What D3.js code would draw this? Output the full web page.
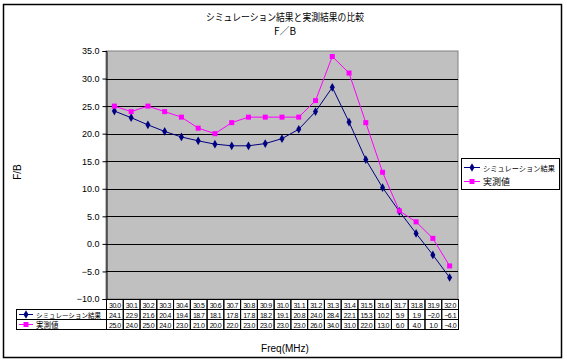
<!DOCTYPE html>
<html>
<head>
<meta charset="utf-8">
<script src="https://cdn.jsdelivr.net/npm/d3@7"></script>
<style>
body { margin: 0; background: #fff; }
svg { display: block; font-family: "Liberation Sans", Arial, "Noto Sans CJK JP", sans-serif; }
.jp { font-family: "Noto Sans CJK JP", sans-serif; }
</style>
</head>
<body>
<svg id="chart" width="567" height="364"></svg>
<script>
// categories (Freq)
const freqs = ["30.0", "30.1", "30.2", "30.3", "30.4", "30.5", "30.6", "30.7", "30.8", "30.9", "31.0",
    "31.1", "31.2", "31.3", "31.4", "31.5", "31.6", "31.7", "31.8", "31.9", "32.0"];
const simValues = [24.1, 22.9, 21.6, 20.4, 19.4, 18.7, 18.1, 17.8, 17.8, 18.2, 19.1,
    20.8, 24.0, 28.4, 22.1, 15.3, 10.2, 5.9, 1.9, -2.0, -6.1];
const measValues = [25.0, 24.0, 25.0, 24.0, 23.0, 21.0, 20.0, 22.0, 23.0, 23.0, 23.0,
    23.0, 26.0, 34.0, 31.0, 22.0, 13.0, 6.0, 4.0, 1.0, -4.0];
const yTicks = [35, 30, 25, 20, 15, 10, 5, 0, -5, -10];
const seriesNames = ["シミュレーション結果", "実測値"];

const svg = d3.select("#chart");

const plot = { left: 106, right: 458, top: 51, bottom: 299 };
const rowH = 10;

// outer frame
svg.append("rect")
    .attr("x", 3.5).attr("y", 4.5)
    .attr("width", 558).attr("height", 353)
    .attr("fill", "#fff").attr("stroke", "#000").attr("stroke-width", 1.5);

// title
svg.append("text").attr("class", "jp")
    .attr("x", 285).attr("y", 21)
    .attr("text-anchor", "middle").attr("font-size", 10)
    .attr("textLength", 158).attr("lengthAdjust", "spacingAndGlyphs")
    .text("シミュレーション結果と実測結果の比較");
svg.append("text").attr("class", "jp")
    .attr("x", 285).attr("y", 35)
    .attr("text-anchor", "middle").attr("font-size", 10)
    .text("F／B");

const x = d3.scaleBand().domain(freqs).range([plot.left, plot.right]);
const y = d3.scaleLinear().domain([-10, 35]).range([plot.bottom, plot.top]);

// plot background
svg.append("rect")
    .attr("x", plot.left).attr("y", plot.top)
    .attr("width", plot.right - plot.left).attr("height", plot.bottom - plot.top)
    .attr("fill", "#c0c0c0").attr("stroke", "#808080");

// gridlines
svg.append("g").selectAll("line")
    .data(yTicks.filter(d => d !== 35 && d !== -10))
    .join("line")
    .attr("x1", plot.left).attr("x2", plot.right)
    .attr("y1", d => Math.round(y(d)) + 0.5).attr("y2", d => Math.round(y(d)) + 0.5)
    .attr("stroke", "#000");

// y axis
const yAxis = svg.append("g")
    .attr("transform", `translate(${plot.left + 0.5},0)`)
    .call(d3.axisLeft(y).tickValues(yTicks).tickSize(4).tickPadding(3).tickFormat(d3.format(".1f")));
yAxis.select(".domain").attr("stroke", "#000");
yAxis.selectAll(".tick line").attr("stroke", "#000");
yAxis.selectAll("text").attr("font-size", 9).attr("fill", "#000")
    .text(d => d3.format(".1f")(d).replace("-", "−"));

svg.append("text")
    .attr("transform", "translate(21,172) rotate(-90)")
    .attr("text-anchor", "middle").attr("font-size", 10)
    .text("F/B");

// lines + markers
const line = d3.line().x((d, i) => x(freqs[i]) + x.bandwidth() / 2).y(d => y(d));

svg.append("path").datum(measValues)
    .attr("d", line).attr("fill", "none").attr("stroke", "#ff00ff").attr("stroke-width", 1);
svg.append("path").datum(simValues)
    .attr("d", line).attr("fill", "none").attr("stroke", "#000080").attr("stroke-width", 1);

const diamond = d3.symbol().type(d3.symbolDiamond).size(22);
svg.append("g").selectAll("path")
    .data(simValues).join("path")
    .attr("d", diamond)
    .attr("transform", (d, i) => `translate(${x(freqs[i]) + x.bandwidth() / 2},${y(d)})`)
    .attr("fill", "#000080");
svg.append("g").selectAll("rect")
    .data(measValues).join("rect")
    .attr("x", (d, i) => x(freqs[i]) + x.bandwidth() / 2 - 2.5)
    .attr("y", d => y(d) - 2.5)
    .attr("width", 5).attr("height", 5)
    .attr("fill", "#ff00ff");

// data table
const table = svg.append("g");
const tRows = [
    { y0: plot.bottom, vals: freqs, fmt: d => d },
    { y0: plot.bottom + rowH, vals: simValues, fmt: d => d.toFixed(1).replace("-", "−") },
    { y0: plot.bottom + 2 * rowH, vals: measValues, fmt: d => d.toFixed(1).replace("-", "−") }
];
tRows.forEach(r => {
    table.append("g").selectAll("rect")
        .data(r.vals).join("rect")
        .attr("x", (d, i) => x(freqs[i]) + 0.5).attr("y", r.y0 + 0.5)
        .attr("width", x.bandwidth()).attr("height", rowH)
        .attr("fill", "none").attr("stroke", "#000");
    table.append("g").selectAll("text")
        .data(r.vals).join("text")
        .attr("x", (d, i) => x(freqs[i]) + x.bandwidth() / 2 + 0.5)
        .attr("y", r.y0 + 8.5)
        .attr("text-anchor", "middle")
        .attr("font-size", 7).attr("letter-spacing", -0.5)
        .text(r.fmt);
});

// legend cells in table
const legendColors = ["#000080", "#ff00ff"];
seriesNames.forEach((name, k) => {
    const y0 = plot.bottom + (k + 1) * rowH;
    table.append("rect")
        .attr("x", 16.5).attr("y", y0 + 0.5)
        .attr("width", plot.left - 16).attr("height", rowH)
        .attr("fill", "none").attr("stroke", "#000");
    table.append("line")
        .attr("x1", 19).attr("x2", 33).attr("y1", y0 + 5.5).attr("y2", y0 + 5.5)
        .attr("stroke", legendColors[k]);
    if (k === 0) {
        table.append("path").attr("d", diamond)
            .attr("transform", `translate(26,${y0 + 5.5})`).attr("fill", legendColors[k]);
    } else {
        table.append("rect").attr("x", 23.5).attr("y", y0 + 3).attr("width", 5).attr("height", 5)
            .attr("fill", legendColors[k]);
    }
    const t = table.append("text").attr("class", "jp")
        .attr("x", 36).attr("y", y0 + 8.5)
        .attr("font-size", k === 0 ? 6.8 : 7.5)
        .text(name);
    if (k === 0) t.attr("textLength", 65).attr("lengthAdjust", "spacingAndGlyphs");
});

// x axis title
svg.append("text")
    .attr("x", 285).attr("y", 352)
    .attr("text-anchor", "middle").attr("font-size", 10)
    .text("Freq(MHz)");

// legend box
const lg = svg.append("g");
lg.append("rect")
    .attr("x", 461.5).attr("y", 158.5).attr("width", 98).attr("height", 31)
    .attr("fill", "#fff").attr("stroke", "#000");
seriesNames.forEach((name, k) => {
    const ly = 167.5 + k * 14;
    lg.append("line").attr("x1", 464).attr("x2", 480).attr("y1", ly).attr("y2", ly)
        .attr("stroke", legendColors[k]);
    if (k === 0) {
        lg.append("path").attr("d", diamond)
            .attr("transform", `translate(472,${ly})`).attr("fill", legendColors[k]);
    } else {
        lg.append("rect").attr("x", 469.5).attr("y", ly - 2.5).attr("width", 5).attr("height", 5)
            .attr("fill", legendColors[k]);
    }
    const t = lg.append("text").attr("class", "jp")
        .attr("x", 483).attr("y", ly + 3.5)
        .attr("font-size", k === 0 ? 7.4 : 9)
        .text(name);
    if (k === 0) t.attr("textLength", 72).attr("lengthAdjust", "spacingAndGlyphs");
});
</script>
</body>
</html>
